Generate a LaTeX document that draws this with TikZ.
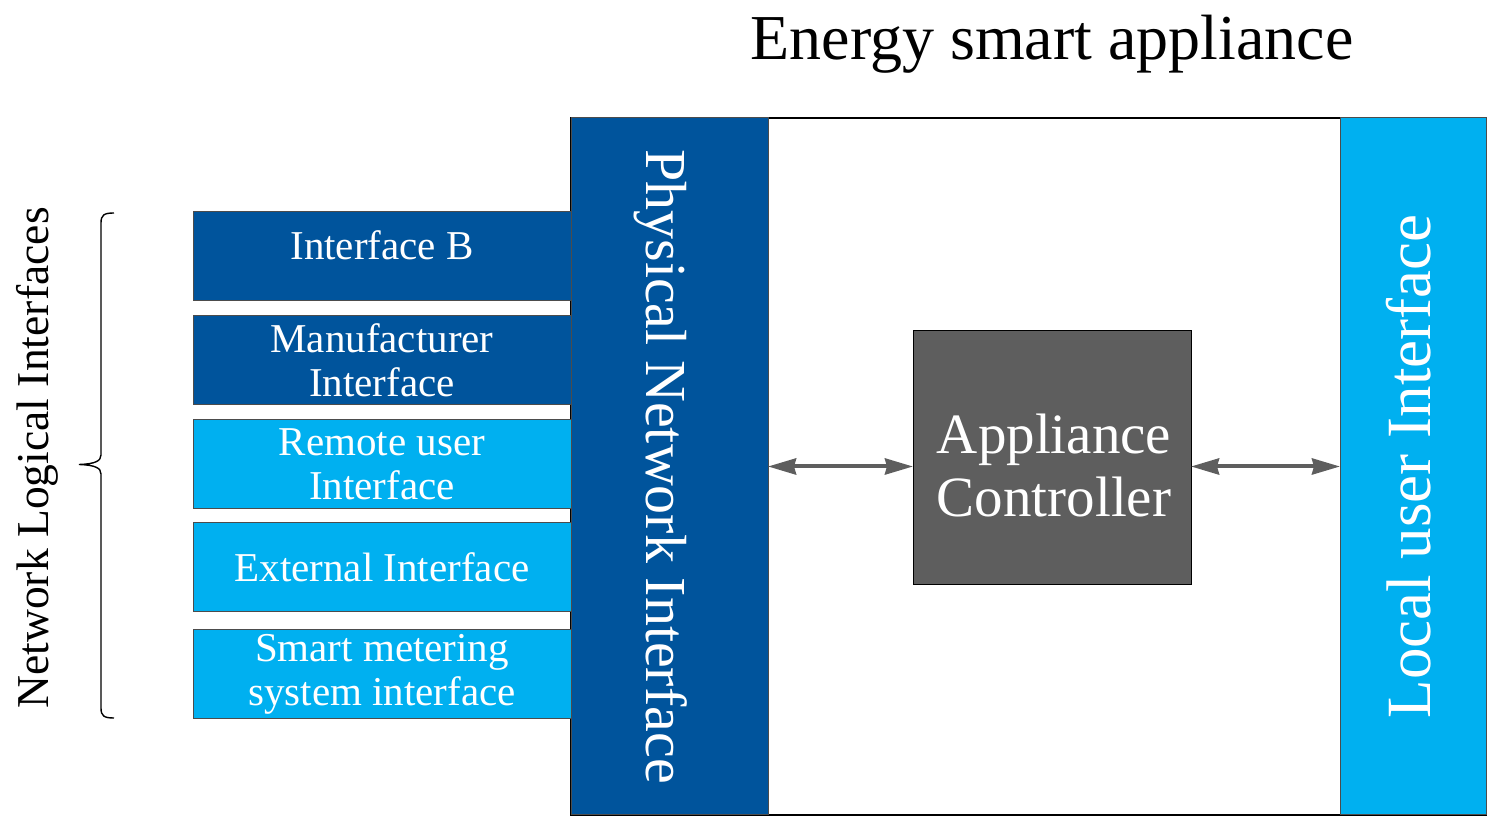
\documentclass[tikz,border=0pt]{standalone}
\usepackage{fontspec}
\setmainfont{Liberation Serif}
\usetikzlibrary{positioning,arrows.meta}
\definecolor{esaDark}{HTML}{00549C}
\definecolor{esaLight}{HTML}{00B0F0}
\definecolor{esaGray}{HTML}{5E5E5E}

\begin{document}
\begin{tikzpicture}[
  x=0.5pt, y=-0.5pt,
  node distance=7.5pt,
  every node/.style={inner sep=0pt, outer sep=0pt},
  logical/.style={rectangle, draw=black!70, line width=0.5pt, text=white,
                  minimum width=189pt, minimum height=44.5pt, align=center,
                  font=\fontsize{20.5}{22}\selectfont},
  darkbox/.style={logical, fill=esaDark},
  lightbox/.style={logical, fill=esaLight},
  bar/.style={rectangle, draw=black!70, line width=0.5pt, minimum height=348.5pt},
  bartext/.style={text=white, font=\fontsize{29}{32}\selectfont},
  link/.style={<->, draw=esaGray, line width=2pt},
  >={Stealth[length=14pt,width=8pt,inset=1pt]}
]
  \useasboundingbox (0,0) rectangle (1501,833);

  \node[font=\fontsize{32}{36}\selectfont] (title) at (1052,44) {Energy smart appliance};

  % appliance frame and its bars
  \node[rectangle, draw=black, line width=1pt, minimum width=457.5pt,
        minimum height=348.5pt] (frame) at (1028.5,466.5) {};
  \node[bar, fill=esaDark, minimum width=98.5pt, anchor=north west] (pni) at (frame.north west) {};
  \node[bar, fill=esaLight, minimum width=73pt, anchor=north east] (lui) at (frame.north east) {};
  \node[bartext, rotate=-90] (pnitext) at (661,466.5) {Physical Network Interface};
  \node[bartext, rotate=90, font=\fontsize{31.5}{34}\selectfont] (luitext) at (1409,466.5) {Local user Interface};

  \node[rectangle, draw=black, line width=0.5pt, fill=esaGray,
        minimum width=139pt, minimum height=127pt] (ctrl) at (1052,458) {};
  \node[text=white, align=center, font=\fontsize{28.5}{31.5}\selectfont] (ctrltext)
        at (1054,466) {Appliance\\Controller};

  % logical interfaces
  \node[darkbox, text depth=11pt] (ifb) at (382,256) {Interface B};
  \node[darkbox, below=of ifb] (manu) {Manufacturer\\Interface};
  \node[lightbox, below=of manu] (remote) {Remote user\\Interface};
  \node[lightbox, below=7pt of remote] (ext) {External Interface};
  \node[lightbox, below=9pt of ext] (smart) {Smart metering\\system interface};

  \coordinate (btop) at (114,213);
  \coordinate (btip) at (79,464.5);
  \coordinate (bbot) at (114,718);
  \draw[line width=0.7pt] (btop) .. controls (104,213) and (101,215) .. (101,223) -- (101,455)
    .. controls (101,461) and (95,464) .. (btip) .. controls (95,465) and (101,468) .. (101,474)
    -- (101,708) .. controls (101,716) and (104,718) .. (bbot);
  \node[rotate=90, font=\fontsize{22.8}{25}\selectfont] (nli) at (37,458) {Network Logical Interfaces};

  \draw[link] (pni.east) -- (pni.east -| ctrl.west);
  \draw[link] (ctrl.east |- lui.west) -- (lui.west);
\end{tikzpicture}
\end{document}
